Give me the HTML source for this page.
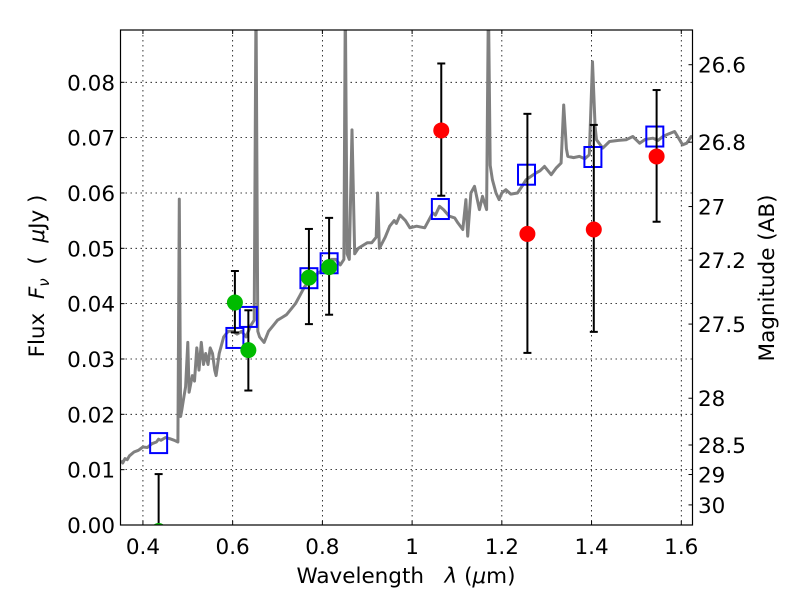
<!DOCTYPE html>
<html><head><meta charset="utf-8"><style>
body{margin:0;background:#fff}
svg text{font-family:"DejaVu Sans","Liberation Sans",sans-serif;font-size:21.5px;fill:#000}
</style></head><body>
<svg id="chart" width="800" height="600" xmlns="http://www.w3.org/2000/svg">
<rect width="800" height="600" fill="#fff"/>
<defs><clipPath id="clip"><rect x="120.5" y="30" width="572" height="495"/></clipPath></defs>
<g id="grid"></g>
<g id="spec" clip-path="url(#clip)"></g>
<g id="marks" clip-path="url(#clip)"></g>
<rect x="120.5" y="30" width="572" height="495" fill="none" stroke="#000" stroke-width="1.2"/>
<g id="axes"></g>
<text x="406" y="583" text-anchor="middle">Wavelength&#160;&#160;&#160;<tspan font-style="italic">λ</tspan>&#160;(<tspan font-style="italic">μ</tspan>m)</text>
<text transform="translate(44,276) rotate(-90)" text-anchor="middle">Flux&#160;&#160;<tspan font-style="italic">F</tspan><tspan font-style="italic" font-size="15" dy="5">ν</tspan><tspan dy="-5">&#160;&#160;(&#160;&#160;</tspan><tspan font-style="italic">μ</tspan>Jy&#160;)</text>
<text transform="translate(774,278) rotate(-90)" text-anchor="middle">Magnitude (AB)</text>
</svg>
<script>
const xTicks=[0.4,0.6,0.8,1.0,1.2,1.4,1.6];
const xTickLabels=["0.4","0.6","0.8","1","1.2","1.4","1.6"];
const yTicks=[0,0.01,0.02,0.03,0.04,0.05,0.06,0.07,0.08];
const yTickLabels=["0.00","0.01","0.02","0.03","0.04","0.05","0.06","0.07","0.08"];
const magTicks=[26.6,26.8,27,27.2,27.5,28,28.5,29,30];
const magTickLabels=["26.6","26.8","27","27.2","27.5","28","28.5","29","30"];
const specWave=[0.352,0.355,0.36,0.365,0.37,0.38,0.39,0.40,0.41,0.42,0.43,0.435,0.44,0.45,0.46,0.47,0.478,0.481,0.484,0.487,0.49,0.495,0.50,0.503,0.51,0.515,0.52,0.525,0.53,0.535,0.54,0.545,0.55,0.555,0.56,0.563,0.57,0.58,0.59,0.60,0.61,0.62,0.63,0.64,0.648,0.652,0.656,0.66,0.67,0.68,0.69,0.70,0.71,0.72,0.73,0.74,0.75,0.76,0.77,0.78,0.79,0.80,0.81,0.82,0.83,0.84,0.848,0.851,0.855,0.86,0.866,0.872,0.88,0.89,0.90,0.91,0.92,0.923,0.927,0.94,0.95,0.96,0.965,0.973,0.985,0.995,1.01,1.028,1.046,1.052,1.061,1.07,1.083,1.095,1.102,1.113,1.12,1.124,1.131,1.139,1.15,1.157,1.166,1.17,1.174,1.179,1.187,1.194,1.2,1.209,1.22,1.235,1.245,1.254,1.265,1.276,1.285,1.295,1.31,1.321,1.332,1.338,1.344,1.347,1.36,1.373,1.385,1.395,1.402,1.408,1.411,1.425,1.44,1.46,1.477,1.492,1.507,1.52,1.537,1.548,1.559,1.57,1.585,1.603,1.612,1.622,1.63];
const specFlux=[0.0117,0.0112,0.0120,0.0118,0.0125,0.0132,0.0135,0.0141,0.0140,0.0147,0.0150,0.0155,0.0153,0.0158,0.0156,0.0153,0.0150,0.0589,0.0196,0.0210,0.0225,0.0250,0.0330,0.0240,0.0270,0.0260,0.0320,0.0280,0.0330,0.0290,0.0310,0.0290,0.0320,0.0310,0.0280,0.0270,0.0310,0.0340,0.0350,0.0350,0.0345,0.0350,0.0340,0.0360,0.0370,0.0950,0.0350,0.0340,0.0330,0.0350,0.0360,0.0370,0.0375,0.0380,0.0390,0.0400,0.0415,0.0430,0.0440,0.0450,0.0455,0.0460,0.0470,0.0480,0.0480,0.0470,0.0480,0.0950,0.0490,0.0480,0.0714,0.0490,0.0500,0.0505,0.0510,0.0510,0.0520,0.0600,0.0500,0.0520,0.0540,0.0550,0.0545,0.0560,0.0550,0.0537,0.0540,0.0537,0.0564,0.0560,0.0576,0.0570,0.0558,0.0555,0.0546,0.0534,0.0588,0.0522,0.0600,0.0612,0.0570,0.0594,0.0570,0.0950,0.0650,0.0624,0.0600,0.0588,0.0600,0.0606,0.0598,0.0600,0.0612,0.0624,0.0630,0.0636,0.0640,0.0648,0.0633,0.0645,0.0654,0.0759,0.0680,0.0666,0.0664,0.0666,0.0662,0.0669,0.0837,0.0720,0.0696,0.0681,0.0693,0.0695,0.0696,0.0702,0.0690,0.0697,0.0699,0.0695,0.0702,0.0706,0.0711,0.0687,0.0690,0.0702,0.0700];
const sqWave=[0.435,0.605,0.635,0.77,0.815,1.063,1.255,1.403,1.541];
const sqFlux=[0.0148,0.0338,0.0376,0.0446,0.0473,0.0571,0.0633,0.0665,0.0702];
const greenWave=[0.435,0.605,0.635,0.77,0.815];
const greenFlux=[0.0,0.0402,0.0316,0.0447,0.0466];
const greenLo=[-0.01,0.0348,0.0243,0.0363,0.0380];
const greenHi=[0.0092,0.0459,0.0388,0.0535,0.0555];
const redWave=[1.065,1.257,1.405,1.545];
const redFlux=[0.0713,0.0526,0.0534,0.0666];
const redLo=[0.0595,0.0311,0.0349,0.0548];
const redHi=[0.0834,0.0743,0.0723,0.0786];

const X0=120.5,X1=692.5,Y0=525,Y1=30,xmin=0.35,xmax=1.625,ymin=0,ymax=0.08945;
const xs=v=>X0+(v-xmin)/(xmax-xmin)*(X1-X0);
const ys=v=>Y0-(v-ymin)/(ymax-ymin)*(Y0-Y1);
const magToFlux=m=>Math.pow(10,(23.9-m)/2.5);
const NS="http://www.w3.org/2000/svg";
function mk(tag,parent,attrs){const e=document.createElementNS(NS,tag);for(const k in attrs)e.setAttribute(k,attrs[k]);parent.appendChild(e);return e;}
const grid=document.getElementById('grid'),axes=document.getElementById('axes'),spec=document.getElementById('spec'),marks=document.getElementById('marks');

xTicks.forEach((t,i)=>{
  const x=xs(t);
  const g=mk('line',grid,{x1:x,x2:x,y1:Y1,y2:Y0,stroke:'#000','stroke-width':0.8,'stroke-dasharray':'1.5,3.5'});
  
  
  mk('line',axes,{x1:x,x2:x,y1:Y0,y2:Y0-4,stroke:'#000'});
  mk('line',axes,{x1:x,x2:x,y1:Y1,y2:Y1+4,stroke:'#000'});
  const tx=mk('text',axes,{x:x,y:554,'text-anchor':'middle'});
  tx.textContent=xTickLabels[i];
  
  
});
yTicks.forEach((t,i)=>{
  const y=ys(t);
  const g=mk('line',grid,{x1:X0,x2:X1,y1:y,y2:y,stroke:'#000','stroke-width':0.8,'stroke-dasharray':'1.5,3.5'});
  
  
  mk('line',axes,{x1:X0,x2:X0+4,y1:y,y2:y,stroke:'#000'});
  const tx=mk('text',axes,{x:115,y:y+8,'text-anchor':'end'});
  tx.textContent=yTickLabels[i];
  
  
});
magTicks.forEach((m,i)=>{
  const y=ys(magToFlux(m));
  mk('line',axes,{x1:X1,x2:X1-4,y1:y,y2:y,stroke:'#000'});
  const tx=mk('text',axes,{x:698,y:y+8,'text-anchor':'start'});
  tx.textContent=magTickLabels[i];
  
  
});

const path=mk('path',spec,{d:specWave.map((w,i)=>(i?'L':'M')+xs(w).toFixed(1)+','+ys(specFlux[i]).toFixed(1)).join(''),fill:'none',stroke:'#808080','stroke-width':3,'stroke-linejoin':'round'});



function errbar(x,lo,hi){
  const a=Math.min(ys(lo),Y0),b=ys(hi);
  mk('line',marks,{x1:x,x2:x,y1:a,y2:b,stroke:'#000','stroke-width':2});
  mk('line',marks,{x1:x-4,x2:x+4,y1:b,y2:b,stroke:'#000','stroke-width':2});
  if(ys(lo)<Y0) mk('line',marks,{x1:x-4,x2:x+4,y1:a,y2:a,stroke:'#000','stroke-width':2});
}
sqWave.forEach((w,i)=>{
  const r=mk('rect',marks,{x:xs(w)-8.5,y:ys(sqFlux[i])-10,width:17,height:20,fill:'none',stroke:'#0000ff','stroke-width':2});
  
  
});
greenWave.forEach((w,i)=>{
  errbar(xs(w),greenLo[i],greenHi[i]);
  const c=mk('circle',marks,{cx:xs(w),cy:ys(greenFlux[i]),r:8,fill:'#00bb00'});
  if(greenFlux[i]<=0) c.setAttribute('cy',ys(greenFlux[i])+6);
  
  
});
redWave.forEach((w,i)=>{
  errbar(xs(w),redLo[i],redHi[i]);
  const c=mk('circle',marks,{cx:xs(w),cy:ys(redFlux[i]),r:8,fill:'#ff0000'});
  
  
});
</script>
</body></html>
